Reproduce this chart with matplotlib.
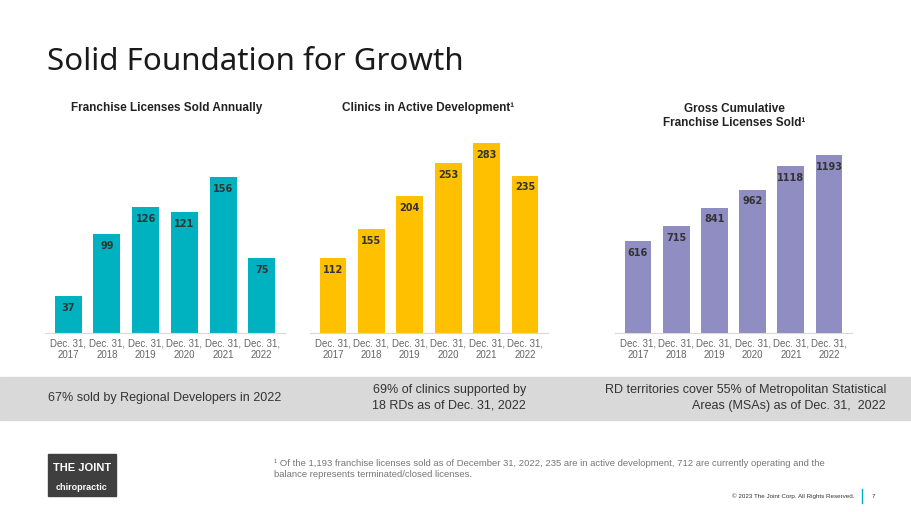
import matplotlib.pyplot as plt
from matplotlib.patches import Rectangle

plt.rcParams['font.family'] = ['Liberation Sans', 'DejaVu Sans']

years = ['Dec. 31,\n2017', 'Dec. 31,\n2018', 'Dec. 31,\n2019', 'Dec. 31,\n2020', 'Dec. 31,\n2021', 'Dec. 31,\n2022']
licenses_sold = [37, 99, 126, 121, 156, 75]
clinics_dev = [112, 155, 204, 253, 283, 235]
cumulative = [616, 715, 841, 962, 1118, 1193]

W, H = 911, 512
fig = plt.figure(figsize=(W/100, H/100), dpi=100)
fig.patch.set_facecolor('white')

def px(x0, y0, x1, y1):
    return [x0/W, 1-y1/H, (x1-x0)/W, (y1-y0)/H]

fig.text(47/W, 1-62/H, 'Solid Foundation for Growth', fontsize=22.5, color='#1a1a1a', va='center', family='Noto Sans')

panels = [
    (px(45, 140, 285, 333), licenses_sold, 193, '#00B2BF', 'Franchise Licenses Sold Annually', 167, 108),
    (px(310, 140, 548, 333), clinics_dev, 288, '#FFC000', 'Clinics in Active Development¹', 428, 108),
    (px(615, 140, 852, 333), cumulative, 1295, '#8F8DC2', 'Gross Cumulative\nFranchise Licenses Sold¹', 734, 116),
]
for rect, vals, top, col, title, tx, ty in panels:
    ax = fig.add_axes(rect)
    x = range(len(vals))
    ax.bar(x, vals, width=0.7, color=col)
    for i, v in enumerate(vals):
        ax.text(i, v - top*0.035, str(v), ha='center', va='top', fontsize=7, fontweight='bold',
                color='#333333', family='DejaVu Sans')
    ax.set_ylim(0, top)
    ax.set_xlim(-0.6, len(vals)-0.4)
    ax.set_yticks([])
    ax.set_xticks(list(x))
    ax.set_xticklabels(years, fontsize=7, color='#666666')
    ax.tick_params(axis='x', length=0, pad=4)
    for s in ['top', 'left', 'right']:
        ax.spines[s].set_visible(False)
    ax.spines['bottom'].set_color('#D9D9D9')
    fig.text(tx/W, 1-ty/H, title, ha='center', va='center', fontsize=8.5, fontweight='bold', color='#222222')

fig.patches.append(Rectangle((0, 1-420/H), 1, 43/H, transform=fig.transFigure, color='#D9D9D9', zorder=0))
fig.text(48/W, 1-398/H, '67% sold by Regional Developers in 2022', fontsize=9, color='#333333', va='center')
fig.text(526/W, 1-398/H, '69% of clinics supported by\n18 RDs as of Dec. 31, 2022', fontsize=9, color='#333333', va='center', ha='right', linespacing=1.4)
fig.text(886/W, 1-398/H, 'RD territories cover 55% of Metropolitan Statistical\nAreas (MSAs) as of Dec. 31,  2022', fontsize=9, color='#333333', va='center', ha='right', linespacing=1.4, multialignment='right')

fig.patches.append(Rectangle((48/W, 1-496/H), 68/W, 42/H, transform=fig.transFigure, color='#3F3F3F'))
fig.text(82/W, 1-468/H, 'THE JOINT', fontsize=8, color='white', ha='center', va='center', fontweight='bold')
fig.text(82/W, 1-487/H, 'chiropractic', fontsize=6.5, color='white', ha='center', va='center', fontweight='bold')

fig.text(274/W, 1-469/H, '¹ Of the 1,193 franchise licenses sold as of December 31, 2022, 235 are in active development, 712 are currently operating and the\nbalance represents terminated/closed licenses.', fontsize=6.8, color='#777777', va='center', linespacing=1.4)
fig.text(855/W, 1-496/H, '© 2023 The Joint Corp. All Rights Reserved.', fontsize=4.5, color='#333333', ha='right', va='center')
fig.add_artist(plt.Line2D([862/W, 862/W], [1-503/H, 1-489/H], color='#00B2BF', lw=1))
fig.text(873/W, 1-496/H, '7', fontsize=4.5, color='#333333', ha='center', va='center')

fig.savefig('out.png', dpi=100)
